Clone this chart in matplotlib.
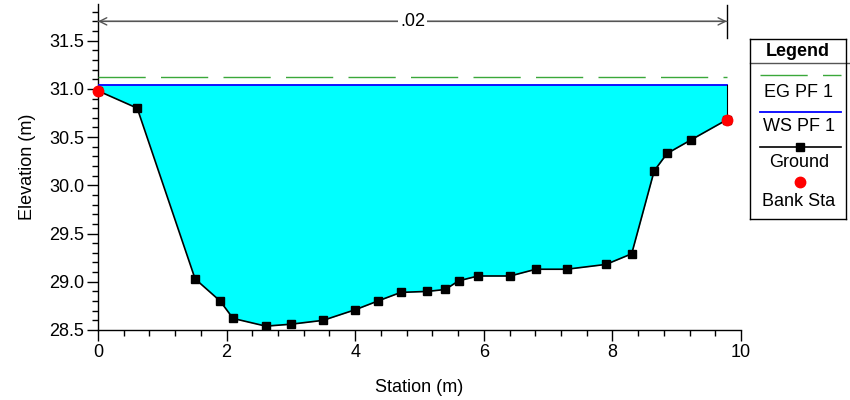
import numpy as np
import matplotlib.pyplot as plt
from matplotlib.ticker import MultipleLocator

plt.rcParams.update({
    'font.family': ['Liberation Sans', 'DejaVu Sans'],
    'font.size': 13,
    'axes.linewidth': 1.0,
})

# ground survey points
station = [0.0, 0.61, 1.51, 1.90, 2.10, 2.61, 3.00, 3.50, 4.00, 4.35, 4.71,
           5.12, 5.40, 5.61, 5.91, 6.41, 6.81, 7.29, 7.90, 8.30, 8.65, 8.85,
           9.22, 9.78]
ground = [30.98, 30.80, 29.03, 28.80, 28.62, 28.54, 28.56, 28.60, 28.71, 28.80,
          28.89, 28.90, 28.92, 29.01, 29.06, 29.06, 29.13, 29.13, 29.18, 29.29,
          30.15, 30.33, 30.47, 30.68]
bank_sta = [0.0, 9.78]
bank_elev = [30.98, 30.68]
ws_elev = 31.04
eg_elev = 31.12
n_value = '.02'
n_y = 31.70

EG_COL = '#3aa83a'
fig = plt.figure(figsize=(8.5, 4), dpi=100)
ax = fig.add_axes([98/850, 1-330/400, (741-98)/850, (330-4)/400])

st = np.array(station)
gr = np.array(ground)
ax.fill_between(st, gr, ws_elev, where=gr <= ws_elev, color='#00ffff', lw=0, zorder=1)
ax.plot([st[0], st[-1]], [ws_elev, ws_elev], color='#0000ff', lw=1.3, zorder=3)
ax.plot([st[-1], st[-1]], [ground[-1], ws_elev], color='black', lw=0.8, zorder=3)
ax.plot([st[0], st[-1]], [eg_elev, eg_elev], color=EG_COL, lw=1.0,
        dashes=(34, 11), zorder=3)
ax.plot(station, ground, color='black', lw=1.2, marker='s', ms=5.5, zorder=4)
ax.plot(bank_sta, bank_elev, 'o', color='red', ms=7.5, zorder=5, clip_on=False)

# manning's n bracket
ax.annotate('', xy=(st[0], n_y), xytext=(st[-1], n_y),
            arrowprops=dict(arrowstyle='->', color='#555555', lw=1.0,
                            shrinkA=0, shrinkB=0))
ax.annotate('', xy=(st[-1], n_y), xytext=(st[0], n_y),
            arrowprops=dict(arrowstyle='->', color='#555555', lw=1.0,
                            shrinkA=0, shrinkB=0))
ax.plot([st[-1], st[-1]], [n_y - 0.17, n_y + 0.17], color='black', lw=1.0)
ax.text((st[0] + st[-1]) / 2, n_y, n_value, ha='center', va='center',
        bbox=dict(fc='white', ec='none', pad=1.5))

ax.set_xlim(0, 10)
ax.set_ylim(28.5, 31.88)
ax.set_xticks([0, 2, 4, 6, 8, 10])
ax.set_yticks([28.5, 29.0, 29.5, 30.0, 30.5, 31.0, 31.5])
ax.yaxis.set_major_formatter(plt.FormatStrFormatter('%.1f'))
ax.xaxis.set_minor_locator(MultipleLocator(0.4))
ax.yaxis.set_minor_locator(MultipleLocator(0.1))
ax.tick_params(which='major', length=8, width=1, direction='out', pad=2)
ax.tick_params(which='minor', length=4, width=1, direction='out')
ax.spines['top'].set_visible(False)
ax.spines['right'].set_visible(False)
ax.set_xlabel('Station (m)', labelpad=13)
ax.set_ylabel('Elevation (m)', labelpad=9)

# legend panel
lg = fig.add_axes([750/850, 1-219/400, 96/850, 180/400])
lg.set_xlim(750, 846)
lg.set_ylim(219, 39)
lg.set_xticks([])
lg.set_yticks([])
for s in lg.spines.values():
    s.set_linewidth(1.0)
lg.text(798, 52, 'Legend', ha='center', va='center', fontweight='bold')
lg.plot([750, 850], [63, 63], color='#555555', lw=1.0, clip_on=False)
lg.plot([760, 841], [75, 75], color=EG_COL, lw=1.0, dashes=(34, 11))
lg.text(799, 93, 'EG PF 1', ha='center', va='center')
lg.plot([760, 841], [112, 112], color='#0000ff', lw=1.3)
lg.text(799, 127, 'WS PF 1', ha='center', va='center')
lg.plot([760, 841], [147, 147], color='black', lw=1.2)
lg.plot([800], [147], 's', color='black', ms=5.5)
lg.text(799, 163, 'Ground', ha='center', va='center')
lg.plot([800], [182], 'o', color='red', ms=7.5)
lg.text(799, 202, 'Bank Sta', ha='center', va='center')

fig.savefig('out.png', dpi=100)
